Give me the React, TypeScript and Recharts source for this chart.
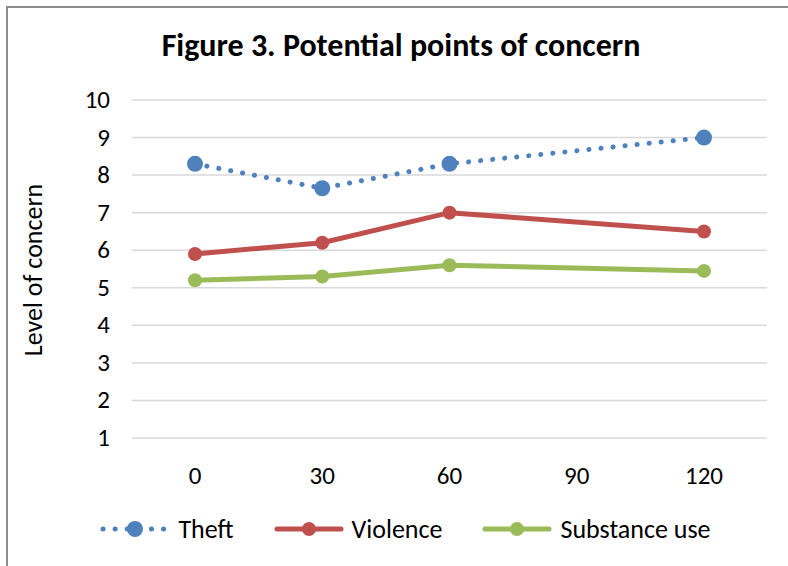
import React from "react";
import { LineChart, Line, XAxis, YAxis, CartesianGrid, Legend } from "recharts";

const minutes = ["0", "30", "60", "90", "120"];
const theft = [8.3, 7.65, 8.3, null, 9.0];
const violence = [5.9, 6.2, 7.0, null, 6.5];
const substanceUse = [5.2, 5.3, 5.6, null, 5.45];
const yTicks = [1, 2, 3, 4, 5, 6, 7, 8, 9, 10];

const FONT = "Carlito, Calibri, 'Liberation Sans', sans-serif";

const BLUE = "#4F81BD";
const RED = "#C0504D";
const GREEN = "#9BBB59";

const data = minutes.map((m, i) => ({
  minute: m,
  theft: theft[i],
  violence: violence[i],
  substance: substanceUse[i],
}));

const legendItems = [
  { label: "Theft", color: BLUE, dotted: true },
  { label: "Violence", color: RED, dotted: false },
  { label: "Substance use", color: GREEN, dotted: false },
];

const LegendContent = () => (
  <div
    style={{
      display: "flex",
      justifyContent: "center",
      alignItems: "center",
      gap: 40,
      fontFamily: FONT,
      fontSize: 26,
      color: "#000",
      paddingLeft: 44,
    }}
  >
    {legendItems.map((it) => (
      <div key={it.label} style={{ display: "flex", alignItems: "center" }}>
        <svg width={70} height={20}>
          <line
            x1={3}
            y1={10}
            x2={67}
            y2={10}
            stroke={it.color}
            strokeWidth={5}
            strokeLinecap="round"
            strokeDasharray={it.dotted ? "0.1 12" : undefined}
          />
          <circle cx={35} cy={10} r={it.dotted ? 8 : 7} fill={it.color} />
        </svg>
        <span style={{ marginLeft: 8 }}>{it.label}</span>
      </div>
    ))}
  </div>
);

const YTick = (props: any) => {
  const { x, y, payload } = props;
  return (
    <text
      x={x - 14}
      y={y}
      dy={8}
      textAnchor="end"
      fontFamily={FONT}
      fontSize={25}
      fill="#000"
    >
      {payload.value}
    </text>
  );
};

const XTick = (props: any) => {
  const { x, y, payload } = props;
  return (
    <text
      x={x}
      y={y}
      dy={38}
      textAnchor="middle"
      fontFamily={FONT}
      fontSize={25}
      fill="#000"
    >
      {payload.value}
    </text>
  );
};

export default function App() {
  return (
    <div
      style={{
        position: "absolute",
        left: 0,
        top: 0,
        width: 788,
        height: 566,
        background: "#fff",
      }}
    >
      <div
        style={{
          position: "absolute",
          left: 6,
          top: 6,
          right: -4,
          bottom: -4,
          borderLeft: "2px solid #8c8c8c",
          borderTop: "2px solid #8c8c8c",
        }}
      />
      <div
        style={{
          position: "absolute",
          left: 0,
          width: 788,
          top: 26,
          textAlign: "center",
          fontFamily: FONT,
          fontWeight: "bold",
          fontSize: 32,
          paddingLeft: 14,
          boxSizing: "border-box",
        }}
      >
        Figure 3. Potential points of concern
      </div>
      <div
        style={{
          position: "absolute",
          left: 33,
          top: 270,
          transform: "translate(-50%, -50%) rotate(-90deg)",
          fontFamily: FONT,
          fontSize: 26,
          whiteSpace: "nowrap",
        }}
      >
        Level of concern
      </div>
      <LineChart
        width={788}
        height={566}
        data={data}
        margin={{ top: 100, right: 21, bottom: 17, left: 0 }}
        style={{ position: "absolute", left: 0, top: 0 }}
      >
        <CartesianGrid
          horizontal={true}
          vertical={false}
          stroke="#D9D9D9"
          strokeWidth={1.5}
        />
        <XAxis
          dataKey="minute"
          axisLine={false}
          tickLine={false}
          height={75}
          padding={{ left: 63, right: 63 }}
          tick={<XTick />}
          interval={0}
        />
        <YAxis
          domain={[1, 10]}
          ticks={yTicks}
          width={132}
          axisLine={false}
          tickLine={false}
          tick={<YTick />}
          interval={0}
        />
        <Legend
          verticalAlign="bottom"
          height={36}
          content={<LegendContent />}
        />
        <Line
          type="linear"
          dataKey="theft"
          stroke={BLUE}
          strokeWidth={5}
          strokeLinecap="round"
          strokeDasharray="0.1 12"
          connectNulls
          dot={{ r: 8, fill: BLUE, stroke: "none" }}
          isAnimationActive={false}
        />
        <Line
          type="linear"
          dataKey="violence"
          stroke={RED}
          strokeWidth={5}
          connectNulls
          dot={{ r: 7, fill: RED, stroke: "none" }}
          isAnimationActive={false}
        />
        <Line
          type="linear"
          dataKey="substance"
          stroke={GREEN}
          strokeWidth={5}
          connectNulls
          dot={{ r: 7, fill: GREEN, stroke: "none" }}
          isAnimationActive={false}
        />
      </LineChart>
    </div>
  );
}
